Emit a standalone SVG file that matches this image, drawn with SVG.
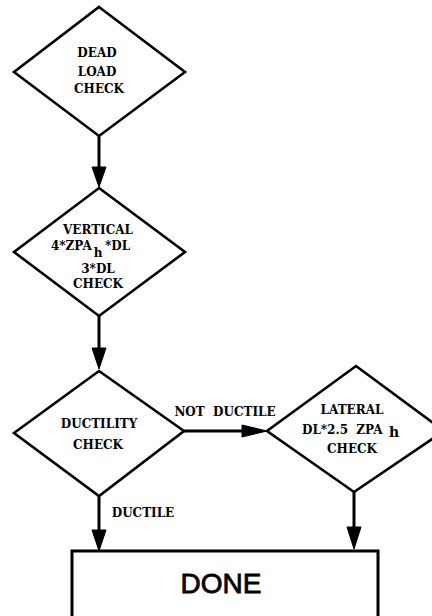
<svg xmlns="http://www.w3.org/2000/svg" width="432" height="616" viewBox="0 0 432 616">
<defs>
<style>
.shape{fill:#fff;stroke:#000;stroke-width:2.6;stroke-linejoin:miter}
.line{fill:none;stroke:#000;stroke-width:3}
.head{fill:#000;stroke:#000;stroke-width:1}
.t{font-family:"DejaVu Serif","Liberation Serif",serif;font-weight:bold;font-size:12px;fill:#000;text-anchor:middle}
.s{text-anchor:start}
.done{font-family:"Liberation Sans",Arial,sans-serif;font-size:28px;fill:#000;stroke:#000;stroke-width:0.8;text-anchor:middle}
</style>
</defs>
<rect width="432" height="616" fill="#fff"/>
<g id="connectors">
<line class="line" x1="99" y1="136" x2="99" y2="172"/>
<polygon class="head" points="92,167 106,167 99,187"/>
<line class="line" x1="99" y1="316" x2="99" y2="352"/>
<polygon class="head" points="92,348 106,348 99,369"/>
<line class="line" x1="184" y1="431" x2="248" y2="431"/>
<polygon class="head" points="242,425 242,437 267,431"/>
<text class="t" transform="translate(225,416) scale(1,1.12)" xml:space="preserve">NOT  DUCTILE</text>
<line class="line" x1="99" y1="496" x2="99" y2="535"/>
<polygon class="head" points="92,530 106,530 99,551"/>
<text class="t" transform="translate(143,517) scale(1,1.12)">DUCTILE</text>
<line class="line" x1="354" y1="492" x2="354" y2="532"/>
<polygon class="head" points="347,527 361,527 354,549"/>
</g>
<g id="dead-load-check">
<polygon class="shape" points="99,7 185,72 99,136 14,72"/>
<text class="t" transform="translate(97,57) scale(1,1.12)">DEAD</text>
<text class="t" transform="translate(97,76) scale(1,1.12)">LOAD</text>
<text class="t" transform="translate(99,93) scale(1,1.12)">CHECK</text>
</g>
<g id="vertical-check">
<polygon class="shape" points="99,188 185,252 99,316 14,252"/>
<text class="t" transform="translate(98,234) scale(1,1.12)">VERTICAL</text>
<text class="t s" transform="translate(51,250) scale(1,1.12)">4*ZPA</text>
<text class="t" transform="translate(98,257) scale(1,1.05)" style="font-size:12px">h</text>
<text class="t s" transform="translate(105,250) scale(1,1.12)">*DL</text>
<text class="t" transform="translate(98,273) scale(1,1.12)">3*DL</text>
<text class="t" transform="translate(98,288) scale(1,1.12)">CHECK</text>
</g>
<g id="ductility-check">
<polygon class="shape" points="99,371 184,431 99,496 14,433"/>
<text class="t" transform="translate(99,428) scale(1,1.12)">DUCTILITY</text>
<text class="t" transform="translate(98,449) scale(1,1.12)">CHECK</text>
</g>
<g id="lateral-check">
<polygon class="shape" points="356,366 444,431 354,492 267,431"/>
<text class="t" transform="translate(352,414) scale(1,1.12)">LATERAL</text>
<text class="t s" transform="translate(302,434) scale(1,1.12)" xml:space="preserve">DL*2.5  ZPA</text>
<text class="t" transform="translate(394,437) scale(1,1.12)" style="font-size:14px">h</text>
<text class="t" transform="translate(352,453) scale(1,1.12)">CHECK</text>
</g>
<g id="done">
<rect class="shape" x="72" y="551" width="306" height="80" style="stroke-width:3"/>
<text class="done" x="221" y="593">DONE</text>
</g>
</svg>
